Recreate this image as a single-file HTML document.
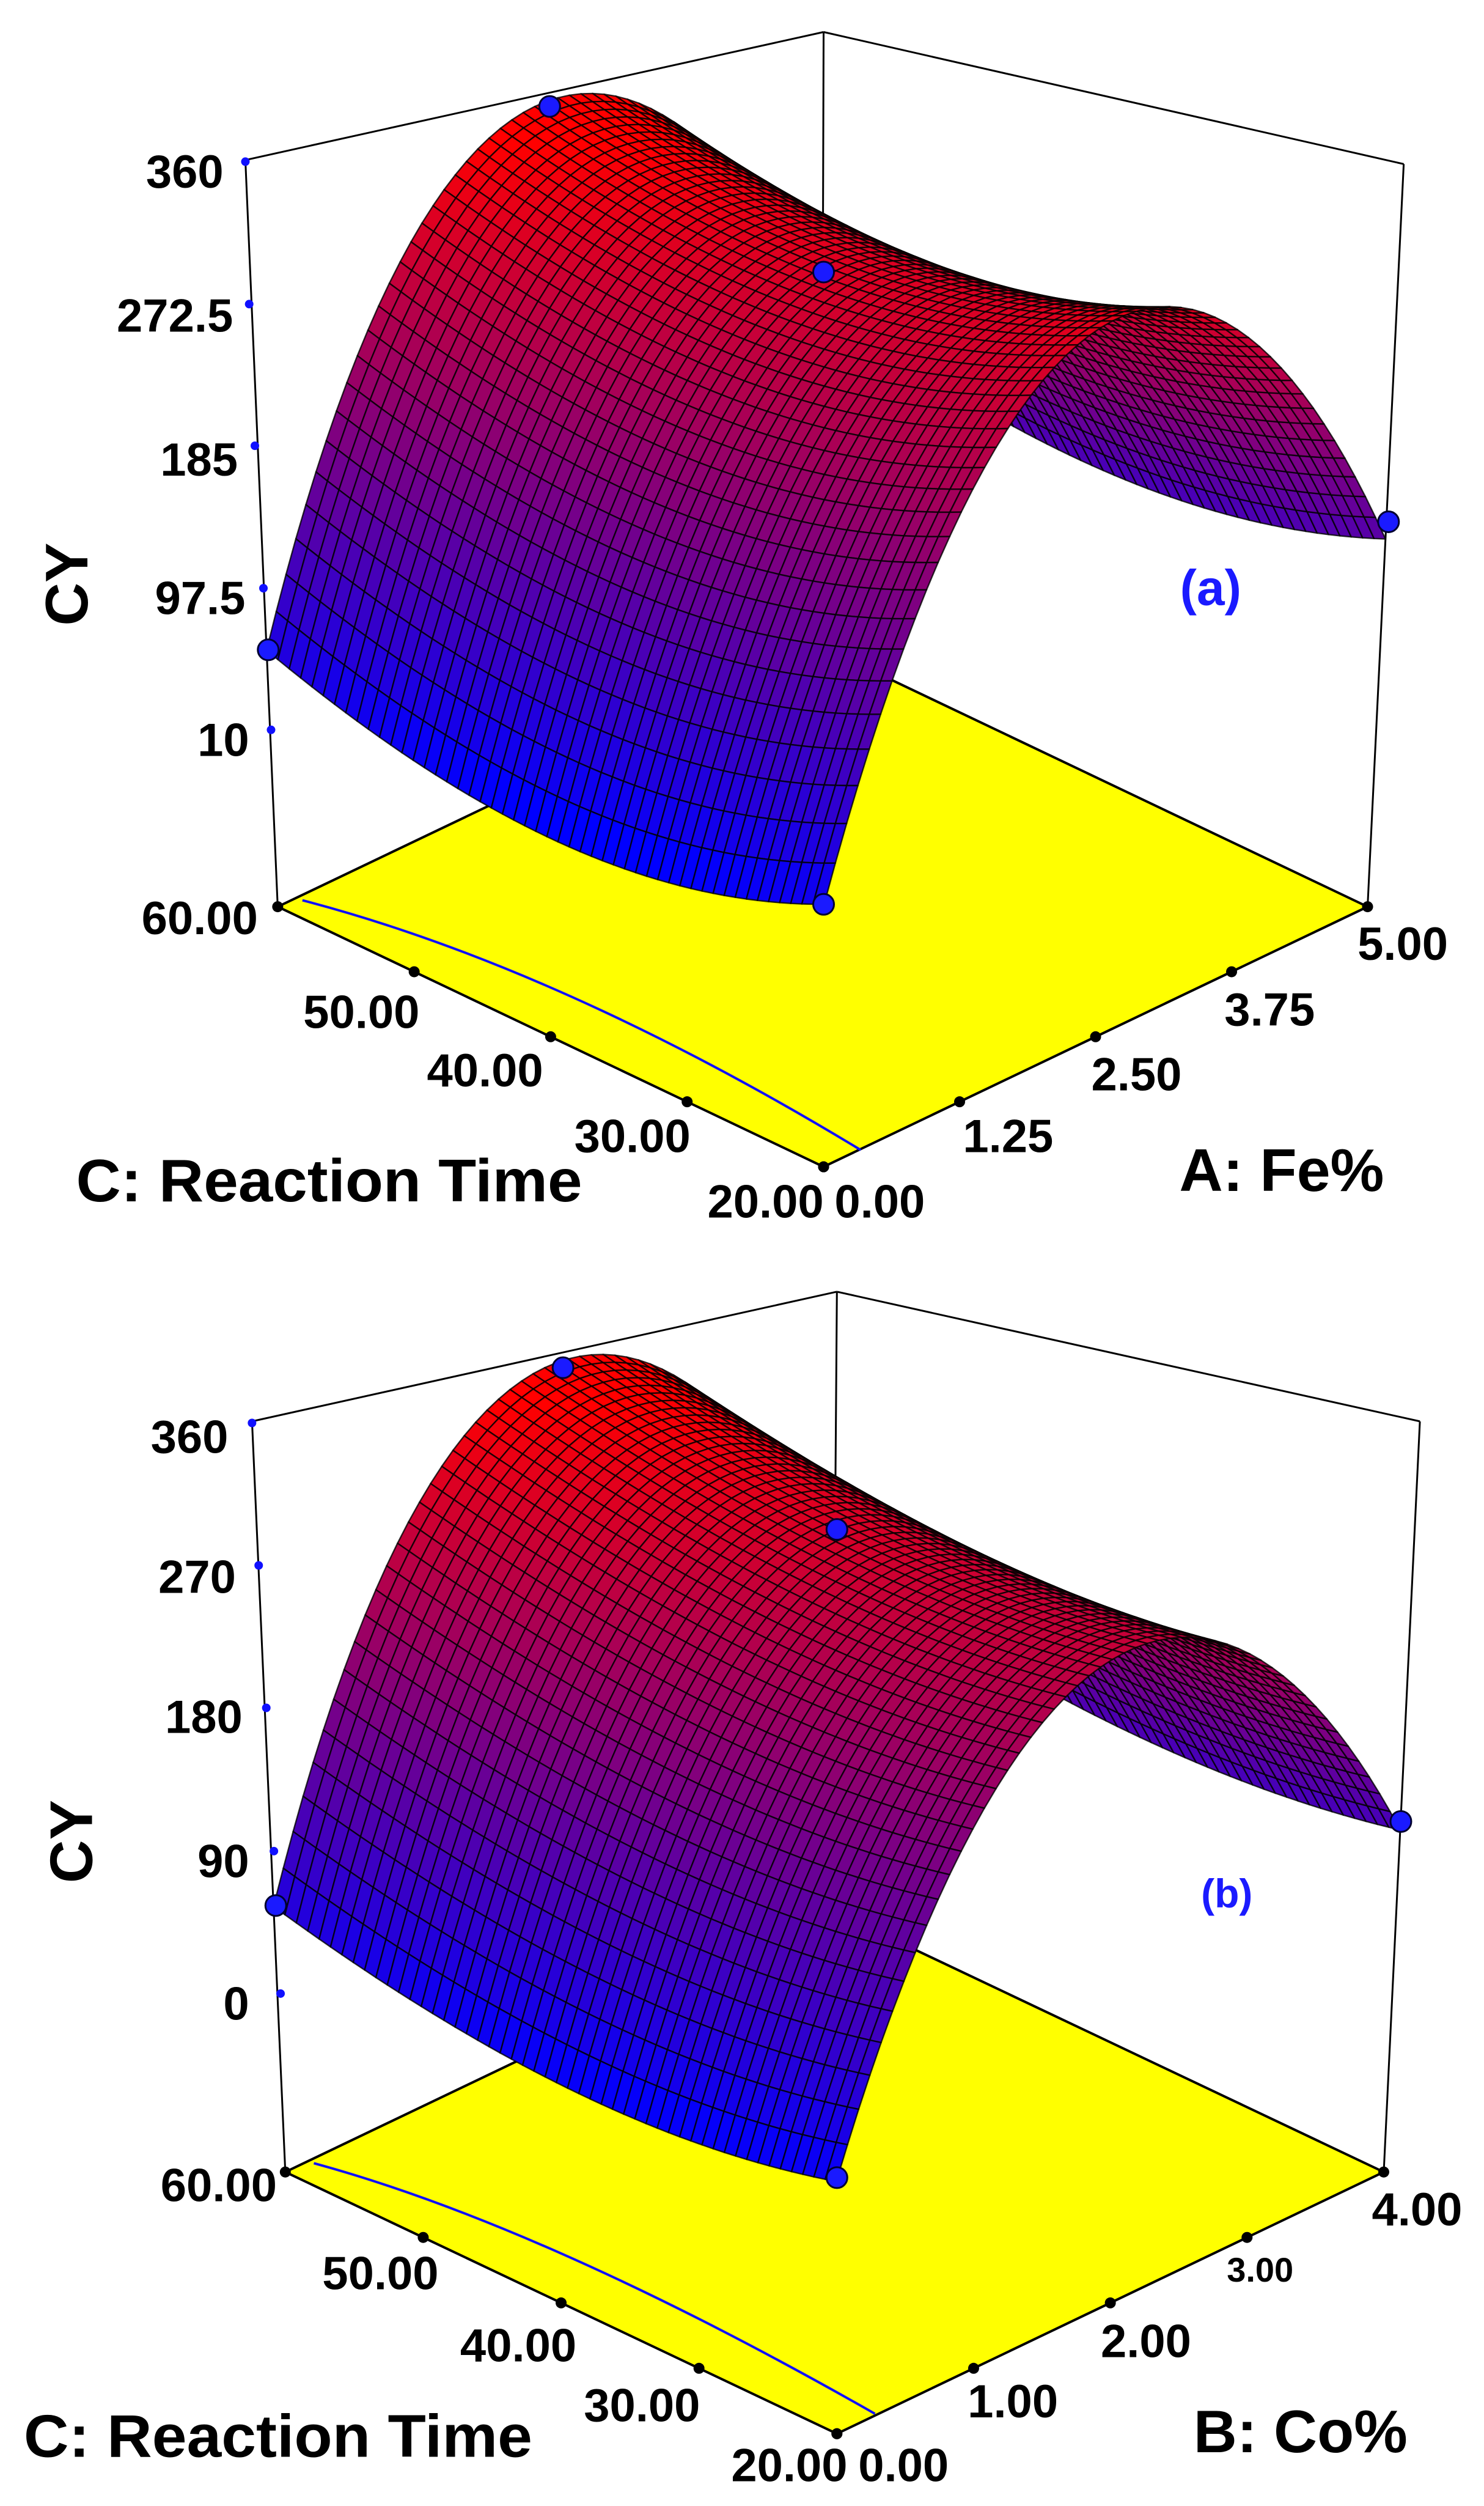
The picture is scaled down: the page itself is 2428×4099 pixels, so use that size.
<!DOCTYPE html>
<html><head><meta charset="utf-8">
<style>
html,body{margin:0;padding:0;background:#fff;}
svg{display:block;}
text{font-family:"Liberation Sans",Arial,sans-serif;font-weight:bold;}
</style></head>
<body>
<svg id="s" xmlns="http://www.w3.org/2000/svg" width="2428" height="4099" viewBox="0 0 2428 4099"></svg>
<script>
const svg=document.getElementById('s');
const SX=1.556, SY=1.309;
const NS='http://www.w3.org/2000/svg';
function el(tag,attrs,txt){const e=document.createElementNS(NS,tag);for(const k in attrs)e.setAttribute(k,attrs[k]);if(txt!==undefined)e.textContent=txt;svg.appendChild(e);return e;}
function panel(cfg){
  const off=cfg.off;
  const T=p=>[p[0]*SX,p[1]*SY+off];
  const L=cfg.L,F=cfg.F,R=cfg.R,B=[L[0]+R[0]-F[0],L[1]+R[1]-F[1]];
  const VL=[cfg.LT[0]-L[0],cfg.LT[1]-L[1]],VR=[cfg.RT[0]-R[0],cfg.RT[1]-R[1]],VB=[cfg.BT[0]-B[0],cfg.BT[1]-B[1]];
  const VF=[VL[0]+VR[0]-VB[0],VL[1]+VR[1]-VB[1]];
  function P(u,s,z){
    const fx=F[0]+u*(R[0]-F[0])+s*(L[0]-F[0]), fy=F[1]+u*(R[1]-F[1])+s*(L[1]-F[1]);
    const w0=(1-u)*(1-s),w1=u*(1-s),w2=(1-u)*s,w3=u*s;
    const vx=VF[0]*w0+VR[0]*w1+VL[0]*w2+VB[0]*w3, vy=VF[1]*w0+VR[1]*w1+VL[1]*w2+VB[1]*w3;
    return T([fx+z*vx,fy+z*vy]);
  }
  const pt=p=>p[0].toFixed(1)+','+p[1].toFixed(1);
  const lines=[[L,cfg.LT],[B,cfg.BT],[R,cfg.RT],[cfg.LT,cfg.BT],[cfg.BT,cfg.RT]];
  el('polygon',{points:[L,F,R,B].map(T).map(pt).join(' '),fill:'#ffff00',stroke:'#000','stroke-width':4});
  lines.forEach(l=>{const a=T(l[0]),b=T(l[1]);el('line',{x1:a[0],y1:a[1],x2:b[0],y2:b[1],stroke:'#000','stroke-width':3});});
  const c=cfg.cont.map(T);const ctrl=[2*c[1][0]-(c[0][0]+c[2][0])/2,2*c[1][1]-(c[0][1]+c[2][1])/2];
  el('path',{d:`M${pt(c[0])} Q${pt(ctrl)} ${pt(c[2])}`,fill:'none',stroke:'#1010ff','stroke-width':4});
  [0,0.25,0.5,0.75,1].forEach(f=>{
    let a=T([F[0]+f*(L[0]-F[0]),F[1]+f*(L[1]-F[1])]);el('circle',{cx:a[0],cy:a[1],r:9,fill:'#000'});
    a=T([F[0]+f*(R[0]-F[0]),F[1]+f*(R[1]-F[1])]);el('circle',{cx:a[0],cy:a[1],r:9,fill:'#000'});
  });
  const N=50, q=cfg.q;
  function Z(u,s){const c=q.c0+(q.c1-q.c0)*s,k=q.k0+(q.k1-q.k0)*s;return c-k*(u-q.m)*(u-q.m)-q.sag*s*(1-s);}
  const quads=[];
  for(let i=0;i<N;i++)for(let j=0;j<N;j++){
    const u0=i/N,u1=(i+1)/N,s0=j/N,s1=(j+1)/N;
    const z=(Z(u0,s0)+Z(u1,s0)+Z(u0,s1)+Z(u1,s1))/4;
    quads.push({d:u0+s0,pts:[P(u0,s0,Z(u0,s0)),P(u1,s0,Z(u1,s0)),P(u1,s1,Z(u1,s1)),P(u0,s1,Z(u0,s1))],z});
  }
  quads.sort((a,b)=>b.d-a.d);
  let g=document.createElementNS(NS,'g');svg.appendChild(g);
  let html='';
  quads.forEach(Q=>{
    let t=(Q.z-0.27)/(0.95-0.27);t=Math.max(0,Math.min(1,t));
    const r=Math.round(255*t),b=Math.round(255*(1-t)),gg=0;
    html+=`<polygon points="${Q.pts.map(pt).join(' ')}" fill="rgb(${r},${gg},${b})" stroke="#000" stroke-width="2.4" stroke-opacity="0.8" stroke-linejoin="round"/>`;
  });
  g.innerHTML=html;
  cfg.zt.forEach(t=>{const a=T([t[0],t[1]]);el('circle',{cx:a[0],cy:a[1],r:7,fill:'#1010ff'});});
  cfg.zl.forEach(t=>{const a=T([t[1],t[2]]);el('text',{x:a[0],y:a[1],'text-anchor':'end','dominant-baseline':'central','font-size':76,fill:'#000'},t[0]);});
  cfg.bl.forEach(t=>{const a=T([t[1],t[2]]);el('text',{x:a[0],y:a[1],'text-anchor':'middle','dominant-baseline':'central','font-size':t[3]||76,fill:'#000'},t[0]);});
  cfg.dp.forEach(d=>{const a=T(d);el('circle',{cx:a[0],cy:a[1],r:d[2]||17,fill:'#1a1aff',stroke:'#000030','stroke-width':3});});
  cfg.ti.forEach(t=>{const a=T([t[1],t[2]]);const b=T([t[3],t[2]]);
    el('text',{x:a[0],y:a[1],'dominant-baseline':'central','font-size':98,fill:'#000',textLength:(b[0]-a[0]).toFixed(0),lengthAdjust:'spacingAndGlyphs'},t[0]);});
  const cy=T(cfg.cy);el('text',{x:cy[0],y:cy[1],'text-anchor':'middle','dominant-baseline':'central','font-size':98,fill:'#000',transform:`rotate(-90 ${cy[0]} ${cy[1]})`},'CY');
  const lb=T(cfg.lab[1]);el('text',{x:lb[0],y:lb[1],'text-anchor':'middle','dominant-baseline':'central','font-size':cfg.lab[2],fill:'#1a1aff'},cfg.lab[0]);
}
panel({off:0,L:[292,1133],F:[866,1458],R:[1438,1133],LT:[258,200],RT:[1476,205],BT:[866,40],
 q:{c0:0.89,k0:1.95,c1:0.990,k1:2.137,m:0.55,sag:0.3},
 cont:[[318,1125],[600,1245],[905,1437]],
 zt:[[258,202],[262,380],[268,557],[277,735],[285,912]],
 zl:[['360',235,215],['272.5',245,395],['185',250,575],['97.5',258,748],['10',262,925]],
 bl:[['60.00',210,1148],['50.00',380,1265],['40.00',510,1338],['30.00',665,1420],['20.00',805,1502],['0.00',925,1502],['1.25',1060,1420],['2.50',1195,1343],['3.75',1335,1262],['5.00',1475,1180]],
 dp:[[578,133],[866,340],[1460,652],[282,812],[866,1130]],
 ti:[['C: Reaction Time',80,1475,612],['A: Fe%',1240,1462,1455]],
 cy:[70,730],lab:['(a)',[1273,735],82]});
panel({off:2050,L:[300,1148],F:[880,1475],R:[1455,1148],LT:[265,210],RT:[1493,210],BT:[880,48],
 q:{c0:0.80,k0:1.70,c1:0.989,k1:2.10,m:0.55,sag:0.2},
 cont:[[330,1137],[600,1255],[920,1450]],
 zt:[[265,212],[272,390],[280,568],[288,747],[295,925]],
 zl:[['360',240,230],['270',248,405],['180',255,580],['90',262,760],['0',262,938]],
 bl:[['60.00',230,1165],['50.00',400,1275],['40.00',545,1365],['30.00',675,1440],['20.00',830,1515],['0.00',950,1515],['1.00',1065,1435],['2.00',1205,1360],['3.00',1325,1270,56],['4.00',1490,1195]],
 dp:[[592,143],[880,345],[1473,710],[290,815],[880,1155]],
 ti:[['C: Reaction Time',25,1478,560],['B: Co%',1255,1472,1480]],
 cy:[75,735],lab:['(b)',[1290,800],66]});
</script>
</body></html>
